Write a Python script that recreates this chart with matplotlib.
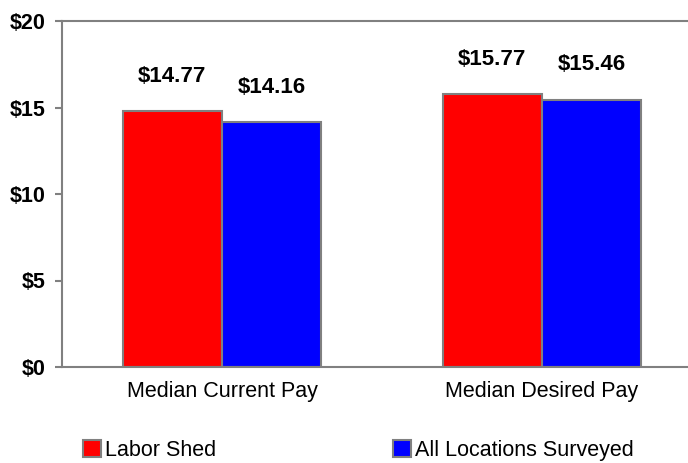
import matplotlib.pyplot as plt
import numpy as np

categories = ["Median Current Pay", "Median Desired Pay"]
labor_shed = [14.77, 15.77]
all_locations = [14.16, 15.46]
series_names = ["Labor Shed", "All Locations Surveyed"]
yticks = [0, 5, 10, 15, 20]
ytick_labels = ["$0", "$5", "$10", "$15", "$20"]

plt.rcParams['font.family'] = ['Liberation Sans', 'DejaVu Sans']

fig = plt.figure(figsize=(6.88, 4.63), dpi=100)
# axes runs past the right edge, as in the original crop
ax = fig.add_axes([62/688, 1 - 367/463, 640/688, 346/463])

x = np.arange(len(categories))
w = 0.31
edge = "#808080"
b1 = ax.bar(x - w/2, labor_shed, w, color="#ff0000", edgecolor=edge, linewidth=1.5, label=series_names[0])
b2 = ax.bar(x + w/2, all_locations, w, color="#0000ff", edgecolor=edge, linewidth=1.5, label=series_names[1])

for bars, vals in [(b1, labor_shed), (b2, all_locations)]:
    for rect, v in zip(bars, vals):
        ax.annotate(f"${v:.2f}", (rect.get_x() + rect.get_width()/2, v),
                    xytext=(0, 25), textcoords="offset points",
                    ha="center", va="center", fontsize=16, fontweight="bold")

ax.set_xlim(-0.5, 1.5)
ax.set_ylim(0, 20)
ax.set_yticks(yticks)
ax.set_yticklabels(ytick_labels, fontsize=15.5, fontweight="bold")
ax.set_xticks(x)
ax.set_xticklabels(categories, fontsize=15.5)
ax.tick_params(axis="x", length=0, pad=10)
ax.tick_params(axis="y", length=5, width=1.5, color=edge, pad=7)

for s in ["left", "bottom", "top"]:
    ax.spines[s].set_color(edge)
    ax.spines[s].set_linewidth(1.5)
ax.spines["right"].set_visible(False)

fig.legend(handles=[b1, b2], loc="lower left", bbox_to_anchor=(74/688, -0.015),
           ncol=2, frameon=False, fontsize=15.5, handlelength=0.85, handleheight=0.85,
           handletextpad=0.2, columnspacing=8.2, borderaxespad=0)

fig.savefig("out.png", dpi=100)
